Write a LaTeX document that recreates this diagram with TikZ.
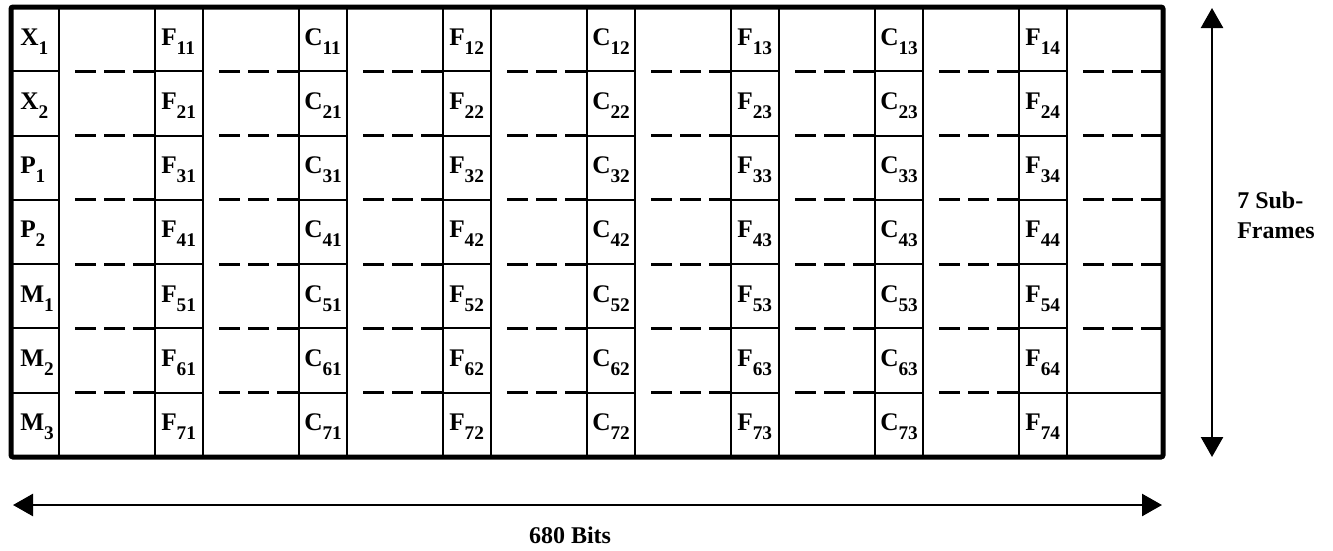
\documentclass[tikz,border=0pt]{standalone}
\usepackage{fontspec}
\setmainfont{Liberation Serif}
\usetikzlibrary{arrows.meta}

% label with lowered index, as in the frame table
\newcommand{\sublab}[2]{#1\raisebox{-6.75pt}{\fontsize{14.5}{14.5}\selectfont #2}}

\tikzset{
  gridline/.style={line width=1.5pt},
  dashline/.style={line width=2.1pt,dash pattern=on 15.75pt off 6pt},
  frameline/.style={line width=3.75pt,rounded corners=1.5pt},
  dimarrow/.style={line width=1.9pt,
    {Triangle[length=15pt,width=16.5pt]}-{Triangle[length=15pt,width=16.5pt]}},
  celltext/.style={inner sep=0pt,anchor=base west,
    font=\fontsize{19}{19}\selectfont\bfseries},
  dimtext/.style={inner sep=0pt,align=left,
    font=\fontsize{18}{22.5}\selectfont\bfseries}
}

\begin{document}
\begin{tikzpicture}[x=0.75pt,y=-0.75pt,line join=miter]
    \useasboundingbox (0,0) rectangle (1333,550);

    % Separaciones entre sub-tramas
    \foreach \r in {1,...,6} {
        \pgfmathsetmacro{\yy}{7+\r*450/7}
        \foreach \k in {0,...,7} {
            \draw[gridline] ({11+144*\k},\yy) -- ({59+144*\k},\yy);
            \ifnum\r\k=67
                \draw[gridline] ({59+144*\k},\yy) -- ({155+144*\k},\yy);
            \else
                \draw[dashline] ({75+144*\k},\yy) -- ({155+144*\k},\yy);
            \fi
        }
    }

    % Columnas
    \foreach \k in {0,...,7} {
        \draw[gridline] ({59+144*\k},7) -- ({59+144*\k},457);
    }
    \foreach \k in {1,...,7} {
        \draw[gridline] ({11+144*\k},7) -- ({11+144*\k},457);
    }

    % Marco exterior
    \draw[frameline] (11,7) rectangle (1163,457);

    % Etiquetas de cada sub-trama
    \foreach \r/\a/\b in {1/X/1,2/X/2,3/P/1,4/P/2,5/M/1,6/M/2,7/M/3} {
        \pgfmathsetmacro{\yb}{7+(\r-1)*450/7+38}
        \node[celltext] (row-\r) at (20,\yb) {\sublab{\a}{\b}};
        \foreach \j in {1,...,4} {
            \node[celltext] (f-\r-\j) at ({161+288*(\j-1)},\yb)
                {\sublab{F}{\r\j}};
        }
        \foreach \j in {1,...,3} {
            \node[celltext] (c-\r-\j) at ({304+288*(\j-1)},\yb)
                {\sublab{C}{\r\j}};
        }
    }

    % Cotas
    \coordinate (sub-t) at (1212,8);
    \coordinate (sub-b) at (1212,457);
    \draw[dimarrow] (sub-t) -- (sub-b);
    \node[dimtext,anchor=west] (sub-lab) at (1237,215) {7 Sub-\\Frames};

    \coordinate (bits-l) at (13,505);
    \coordinate (bits-r) at (1162,505);
    \draw[dimarrow] (bits-l) -- (bits-r);
    \node[dimtext,anchor=base] (bits-lab) at (570,543) {680 Bits};
\end{tikzpicture}
\end{document}
